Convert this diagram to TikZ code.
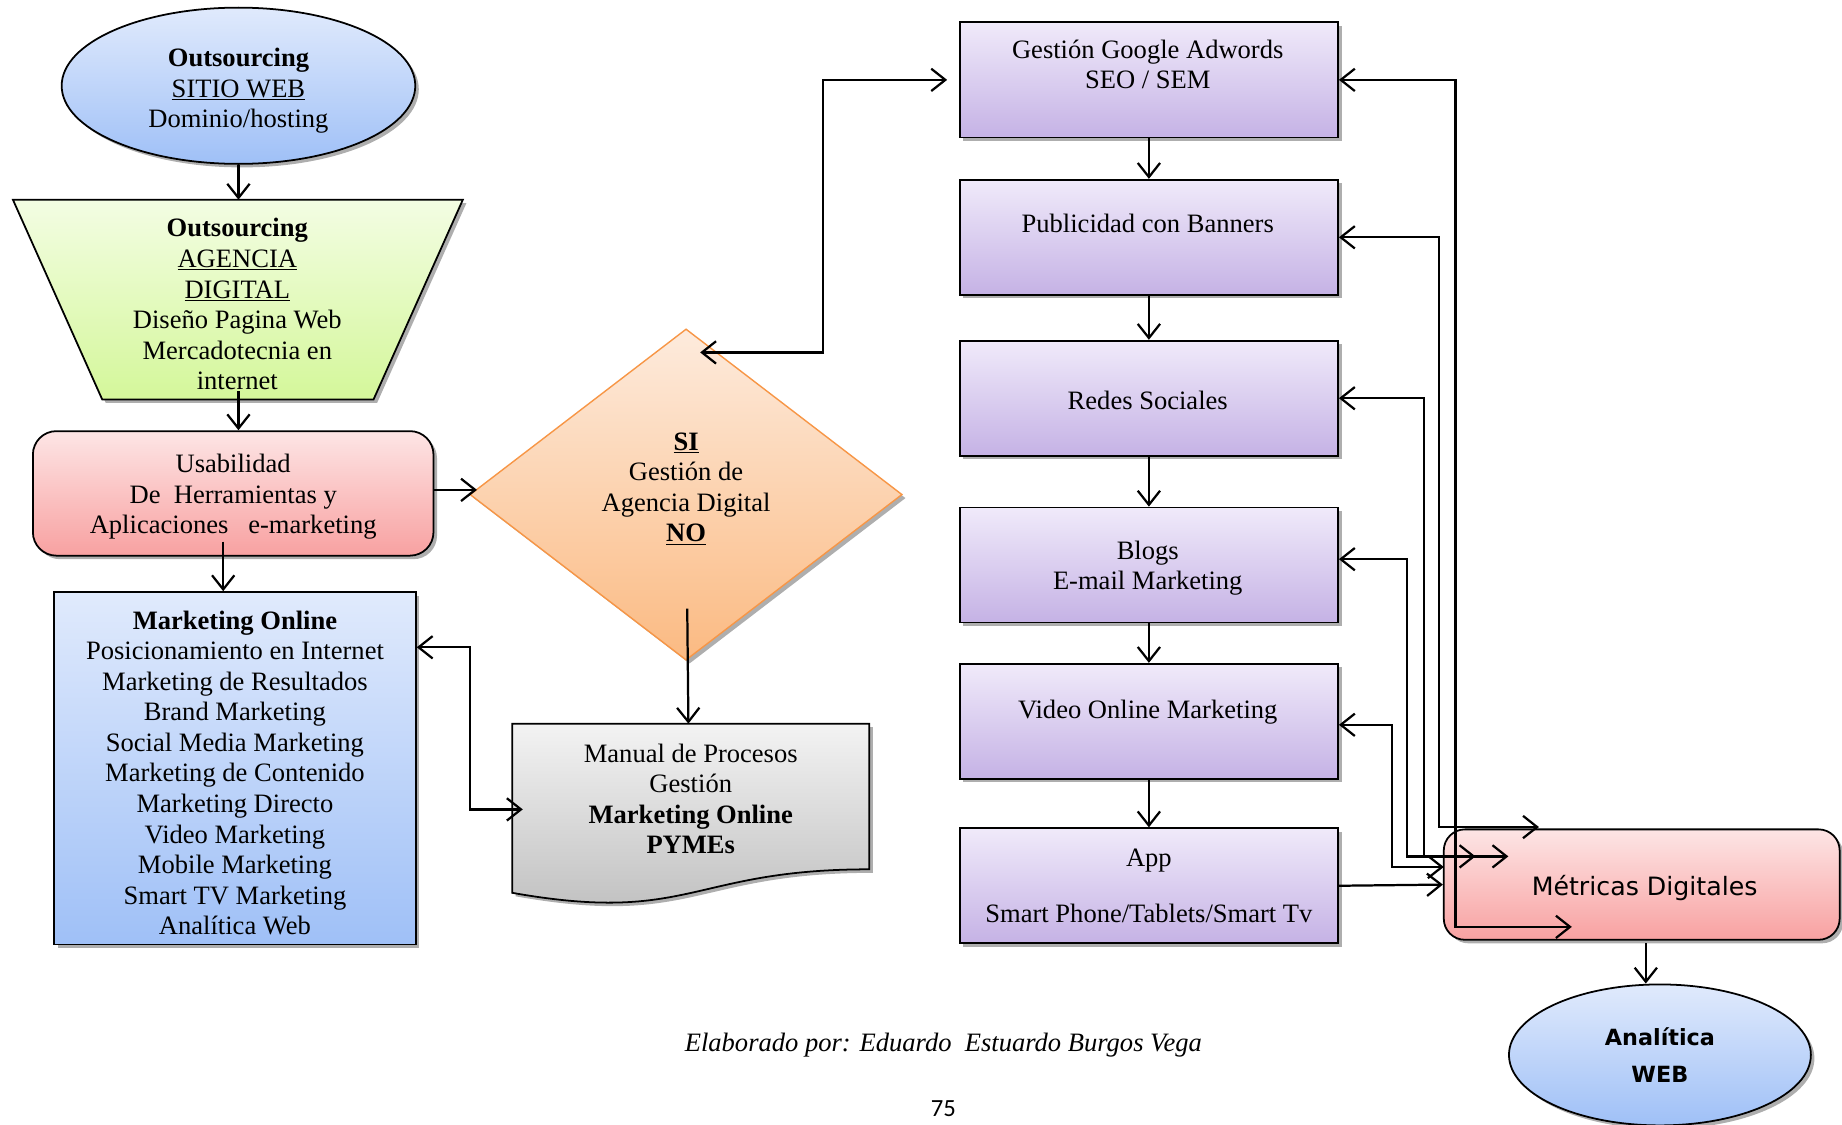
\documentclass[tikz,border=0pt]{standalone}
\usepackage{fontspec}
\setmainfont{Liberation Serif}
\newfontfamily\comicfont{DejaVu Sans}
\newfontfamily\pagefont{Carlito}
\usetikzlibrary{shapes.geometric,shapes.misc,shadows,arrows.meta}
\definecolor{blueTop}{HTML}{E0EAFC}
\definecolor{blueBot}{HTML}{9FC0F7}
\definecolor{greenTop}{HTML}{F3FDE3}
\definecolor{greenBot}{HTML}{D4F79A}
\definecolor{redTop}{HTML}{FDE5E5}
\definecolor{redBot}{HTML}{F8A1A1}
\definecolor{oraTop}{HTML}{FDEBDD}
\definecolor{oraBot}{HTML}{FBBA82}
\definecolor{oraLine}{HTML}{F79646}
\definecolor{grayTop}{HTML}{F3F3F3}
\definecolor{grayBot}{HTML}{BDBDBD}
\definecolor{purTop}{HTML}{F0EAFA}
\definecolor{purBot}{HTML}{C5B2E5}
\begin{document}
\begin{tikzpicture}[x=1pt,y=-1pt,
  base/.style={inner sep=0pt, font=\fontsize{22.6}{26}\selectfont, align=center},
  shd/.style={drop shadow={shadow xshift=3pt,shadow yshift=-3pt,fill=black!45,opacity=0.7}},
  outl/.style={draw=black, line width=1.5pt},
  pbox/.style={base, outl, shd, rectangle, minimum width=322pt, minimum height=98pt, top color=purTop, bottom color=purBot},
  txt/.style={base},
  tipb/.tip={Straight Barb[length=12pt,width=19pt]},
  arr/.style={line width=1.9pt, -tipb},
  biarr/.style={line width=1.9pt, tipb-tipb},
]
\useasboundingbox (0,0) rectangle (1568,957);

% left column
\node[base, outl, shd, ellipse, minimum width=301pt, minimum height=133pt, top color=blueTop, bottom color=blueBot] (ell) at (203,73) {};
\node[txt] (ellt) at (203,77.5) {\textbf{Outsourcing}\\\underline{SITIO WEB}\\Dominio/hosting};

\path[outl, shd, top color=greenTop, bottom color=greenBot] (11,170) -- (394,170) -- (318,340) -- (87,340) -- cycle;
\node[txt] (trap) at (202,259) {\textbf{Outsourcing}\\\underline{AGENCIA}\\\underline{DIGITAL}\\Diseño Pagina Web\\Mercadotecnia en\\internet};

\node[base, outl, shd, rounded corners=20pt, rectangle, minimum width=341pt, minimum height=106pt, top color=redTop, bottom color=redBot] (red) at (198.5,420) {};
\node[txt] (redt) at (198.5,423) {Usabilidad\\De\ \ Herramientas y\\Aplicaciones\ \ \ e-marketing};

\node[base, outl, shd, rectangle, minimum width=308pt, minimum height=300pt, top color=blueTop, bottom color=blueBot] (blue) at (200,654) {};
\node[txt] (bluet) at (200,658) {\textbf{Marketing Online}\\Posicionamiento en Internet\\Marketing de Resultados\\Brand Marketing\\Social Media Marketing\\Marketing de Contenido\\Marketing Directo\\Video Marketing\\Mobile Marketing\\Smart TV Marketing\\Analítica Web};

% middle
\node[base, diamond, draw=oraLine, line width=1.2pt, shd, minimum width=368pt, minimum height=282pt, top color=oraTop, bottom color=oraBot] (dia) at (584,421) {};
\node[txt] (diat) at (584,416) {\textbf{\underline{SI}}\\Gestión de\\Agencia Digital\\\textbf{\underline{NO}}};

\path[outl, shd, top color=grayTop, bottom color=grayBot] (436,616) -- (740,616) -- (740,740) .. controls (588,740) and (588,787) .. (436,760) -- cycle;
\node[txt] (man) at (588,680) {Manual de Procesos\\Gestión\\\textbf{Marketing Online}\\\textbf{PYMEs}};

% right column
\node[pbox] (g1) at (978,68) {};
\node[txt] (g1t) at (977,55) {Gestión Google Adwords\\SEO / SEM};
\node[pbox] (g2) at (978,202) {};
\node[txt] (g2t) at (977,190) {Publicidad con Banners};
\node[pbox] (g3) at (978,339) {};
\node[txt] (g3t) at (977,341) {Redes Sociales};
\node[pbox] (g4) at (978,481) {};
\node[txt] (g4t) at (977,483.5) {Blogs\\E-mail Marketing};
\node[pbox] (g5) at (978,614) {};
\node[txt] (g5t) at (977,606) {Video Online Marketing};
\node[pbox] (g6) at (978,754) {App\\[22pt]Smart Phone/Tablets/Smart Tv};

\node[base, outl, shd, rounded corners=18pt, rectangle, minimum width=337pt, minimum height=94pt, top color=redTop, bottom color=redBot] (met) at (1397.5,753) {};
\node[txt, font=\comicfont\fontsize{21.5}{25}\selectfont] (mett) at (1400,756) {Métricas Digitales};

\node[base, outl, shd, ellipse, minimum width=257pt, minimum height=120pt, top color=blueTop, bottom color=blueBot, font=\comicfont\bfseries\fontsize{19}{31}\selectfont] (ana) at (1413,898) {Analítica\\WEB};

\node[txt, font=\itshape\fontsize{22.6}{26}\selectfont] (cap) at (803,890) {Elaborado por: Eduardo\ \ Estuardo Burgos Vega};
\node[inner sep=0pt, anchor=base, font=\pagefont\fontsize{21}{24}\selectfont] (pg) at (803,950) {75};

% connectors
\coordinate (trapT) at (203,170);
\draw[arr] (ell) -- (trapT);
\coordinate (trapB) at (203,333);
\draw[arr] (trapB) -- (trapB |- red.north);
\coordinate (redB) at (190,461);
\draw[arr] (redB) -- (redB |- blue.north);
\coordinate (dW) at (406,417);
\draw[arr] ([yshift=3pt]red.east) -- (dW);
\coordinate (dBot) at (585,518);
\coordinate (manT) at (586,616);
\draw[arr] (dBot) -- (manT);
\coordinate (manL) at (445,689);
\draw[biarr] ([yshift=103pt]blue.east) -| ([xshift=-45pt]manL) -- (manL);
\coordinate (dTop) at (596,300);
\draw[biarr] (dTop) -| ([xshift=-116pt]g1.west) -- ([xshift=-10pt]g1.west);

\foreach \a/\b in {g1/g2,g2/g3,g3/g4,g4/g5,g5/g6} \draw[arr] (\a.south) -- (\b.north);

\coordinate (m1) at (1338,789);
\coordinate (m2) at (1310,704);
\coordinate (m3) at (1256,729);
\coordinate (m4) at (1284,729);
\coordinate (m5) at (1229,738);
\draw[biarr] (g1.east) -| ([xshift=-99pt]m1) -- (m1);
\draw[biarr] (g2.east) -| ([xshift=-85pt]m2) -- (m2);
\draw[biarr] (g3.east) -| ([xshift=-44pt]m3) -- (m3);
\draw[biarr] ([yshift=5pt]g4.east) -| ([xshift=-86pt]m4) -- (m4);
\draw[biarr] ([yshift=-3pt]g5.east) -| ([xshift=-44pt]m5) -- (m5);
\draw[arr] (g6.east) -- (met.west);

\coordinate (mB) at (1401,803);
\draw[arr] (mB) -- (mB |- ana.north);
\end{tikzpicture}
\end{document}
